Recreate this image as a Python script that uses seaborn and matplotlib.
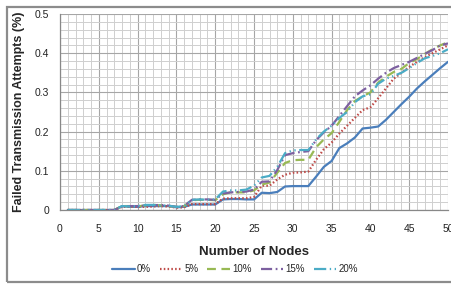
import numpy as np
import pandas as pd
import matplotlib
matplotlib.use("Agg")
import matplotlib.pyplot as plt
import matplotlib.patches as patches
from matplotlib.ticker import MultipleLocator
import seaborn as sns

# number of nodes
nodes = list(range(1, 51))

# failed transmission attempts per malicious share
fail_0 = [0, 0, 0, 0, 0, 0, 0, 0.010, 0.008, 0.008,
          0.010, 0.010, 0.010, 0.010, 0.007, 0.008, 0.014, 0.014, 0.014, 0.014,
          0.027, 0.028, 0.028, 0.027, 0.027, 0.044, 0.043, 0.046, 0.060, 0.061,
          0.061, 0.061, 0.085, 0.110, 0.125, 0.158, 0.170, 0.185, 0.208, 0.210,
          0.213, 0.230, 0.250, 0.270, 0.289, 0.310, 0.328, 0.345, 0.362, 0.378]
fail_5 = [0, 0, 0, 0, 0, 0, 0, 0.008, 0.008, 0.008,
          0.008, 0.009, 0.010, 0.009, 0.006, 0.007, 0.015, 0.015, 0.015, 0.015,
          0.029, 0.030, 0.030, 0.030, 0.033, 0.062, 0.062, 0.078, 0.090, 0.095,
          0.096, 0.098, 0.128, 0.155, 0.172, 0.195, 0.215, 0.235, 0.255, 0.262,
          0.285, 0.310, 0.335, 0.350, 0.365, 0.378, 0.390, 0.400, 0.410, 0.420]
fail_10 = [0, 0, 0, 0, 0, 0, 0, 0.010, 0.010, 0.009,
           0.012, 0.013, 0.012, 0.010, 0.008, 0.010, 0.025, 0.026, 0.026, 0.025,
           0.040, 0.045, 0.045, 0.045, 0.050, 0.065, 0.070, 0.095, 0.120, 0.127,
           0.128, 0.128, 0.160, 0.180, 0.196, 0.225, 0.255, 0.278, 0.290, 0.300,
           0.325, 0.340, 0.352, 0.360, 0.375, 0.385, 0.398, 0.410, 0.420, 0.428]
fail_15 = [0, 0, 0, 0, 0, 0, 0, 0.009, 0.010, 0.010,
           0.011, 0.012, 0.013, 0.011, 0.008, 0.010, 0.026, 0.027, 0.027, 0.026,
           0.042, 0.045, 0.046, 0.047, 0.052, 0.072, 0.073, 0.102, 0.140, 0.145,
           0.148, 0.150, 0.178, 0.198, 0.215, 0.240, 0.265, 0.290, 0.305, 0.318,
           0.335, 0.350, 0.362, 0.370, 0.378, 0.388, 0.398, 0.408, 0.420, 0.425]
fail_20 = [0, 0, 0, 0, 0, 0, 0, 0.010, 0.009, 0.010,
           0.013, 0.013, 0.012, 0.011, 0.008, 0.010, 0.026, 0.027, 0.026, 0.027,
           0.047, 0.050, 0.050, 0.052, 0.062, 0.083, 0.087, 0.110, 0.145, 0.152,
           0.153, 0.153, 0.180, 0.200, 0.215, 0.235, 0.250, 0.275, 0.290, 0.295,
           0.322, 0.335, 0.342, 0.350, 0.362, 0.375, 0.387, 0.393, 0.400, 0.410]

labels = ["0%", "5%", "10%", "15%", "20%"]
series = [fail_0, fail_5, fail_10, fail_15, fail_20]

df = pd.concat([pd.DataFrame({"nodes": nodes, "fail": s, "share": lab})
                for lab, s in zip(labels, series)], ignore_index=True)

colors = {"0%": "#4A7EBB", "5%": "#BE4B48", "10%": "#98B954",
          "15%": "#7D60A0", "20%": "#4BACC6"}
dashes = {"0%": "", "5%": (0.7, 1.0), "10%": (4, 2.5),
          "15%": (5, 1.6, 0.8, 1.6), "20%": (5.5, 1.6, 0.6, 1.6, 0.6, 1.6)}

sns.set_style("white")
plt.rcParams["font.family"] = ["Liberation Sans", "DejaVu Sans"]

fig = plt.figure(figsize=(4.51, 2.84), dpi=100)
ax = fig.add_axes([60 / 451, 74 / 284, 388 / 451, 196 / 284])

sns.lineplot(data=df, x="nodes", y="fail", hue="share", style="share",
             palette=colors, dashes=dashes, linewidth=1.6, ax=ax, legend=True)

ax.set_xlim(0, 50)
ax.set_ylim(0, 0.5)
ax.xaxis.set_major_locator(MultipleLocator(5))
ax.xaxis.set_minor_locator(MultipleLocator(1))
ax.yaxis.set_major_locator(MultipleLocator(0.1))
ax.yaxis.set_minor_locator(MultipleLocator(0.02))
ax.set_yticks([0, 0.1, 0.2, 0.3, 0.4, 0.5])
ax.set_yticklabels(["0", "0.1", "0.2", "0.3", "0.4", "0.5"])
ax.grid(which="major", color="#a6a6a6", linewidth=0.8)
ax.grid(which="minor", color="#cfcfcf", linewidth=0.7)
ax.set_axisbelow(True)
ax.tick_params(axis="x", which="major", pad=7)
ax.tick_params(axis="y", which="major", pad=5)
ax.tick_params(axis="both", which="major", labelsize=7.5, length=3, width=0.8,
               color="#888888", labelcolor="#222222")
ax.tick_params(axis="both", which="minor", length=0)

for side in ["top", "right"]:
    ax.spines[side].set_visible(False)
for side in ["left", "bottom"]:
    ax.spines[side].set_color("#888888")
    ax.spines[side].set_linewidth(0.9)

ax.set_xlabel("Number of Nodes", fontsize=9.5, fontweight="bold", labelpad=9)
ax.set_ylabel("Failed Transmission Attempts (%)", fontsize=9, fontweight="bold")
ax.yaxis.set_label_coords(-35 / 388, 0.5)

handles, labs = ax.get_legend_handles_labels()
ax.legend(handles, labs, loc="center", bbox_to_anchor=(235 / 451, 15 / 284),
          bbox_transform=fig.transFigure, ncol=5, frameon=False, fontsize=7,
          handlelength=2.3, columnspacing=0.9, handletextpad=0.25)

# outer chart border
fig.patches.append(patches.Rectangle((7.5 / 451, 2 / 284), 460 / 451, 275 / 284,
                                     transform=fig.transFigure, fill=False,
                                     edgecolor="#8c8c8c", linewidth=1.6))

fig.savefig("out.png", dpi=100)
